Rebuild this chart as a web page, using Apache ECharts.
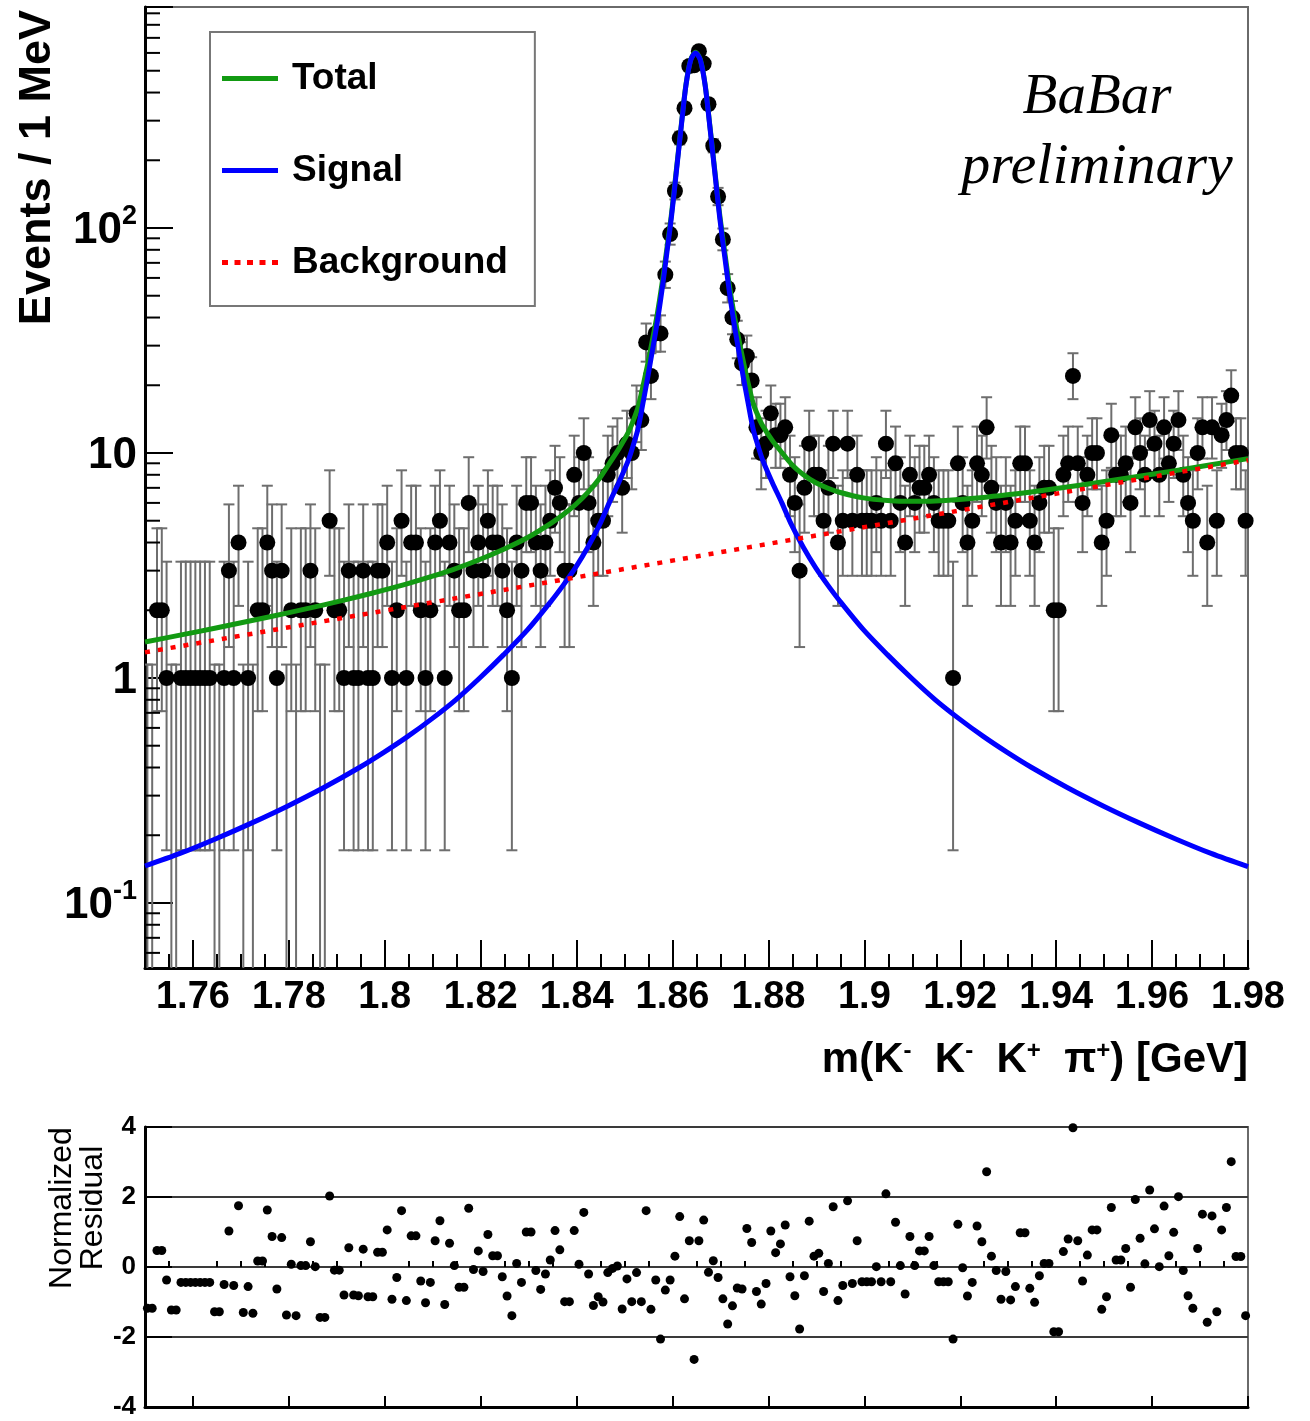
<!DOCTYPE html>
<html>
<head>
<meta charset="utf-8">
<title>BaBar preliminary - m(K- K- K+ pi+)</title>
<script src="https://cdn.jsdelivr.net/npm/echarts@6.0.0/dist/echarts.min.js"></script>
<style>
html,body{margin:0;padding:0;background:#ffffff;}
#chart{width:1310px;height:1421px;}
</style>
</head>
<body>
<div id="chart"></div>
<script>
// ---------------- data ----------------
const binLow = 1.75;      // GeV, lower edge of first bin
const binWidth = 0.001;   // 1 MeV bins

const counts = [
  0,0,2,2,1,0,0,1,1,1,
  1,1,1,1,0,0,1,3,1,4,
  0,1,0,2,2,4,3,1,3,0,
  2,0,2,2,3,2,0,0,5,2,
  2,1,3,1,1,3,1,1,3,3,
  4,1,2,5,1,4,4,2,1,2,
  4,5,1,4,3,2,2,6,3,4,
  3,5,4,4,3,2,1,4,3,6,
  6,4,3,4,5,7,6,3,3,8,
  6,10,6,4,5,5,8,9,10,7,
  11,10,15,14,31,22,34,34,62,94,
  146,251,341,525,529,611,538,355,232,138,
  89,54,40,32,25,27,21,13,10,11,
  15,12,12,13,8,6,3,7,11,8,
  8,5,7,11,4,5,11,5,8,5,
  5,5,6,5,11,5,9,6,4,8,
  6,7,7,8,6,5,5,5,1,9,
  6,4,5,9,8,13,7,6,4,6,
  4,5,9,9,5,4,6,7,7,2,
  2,8,9,22,9,6,8,10,10,4,
  5,12,8,8,9,6,13,10,8,14,
  11,8,13,9,11,14,8,6,5,10,
  13,4,13,5,12,14,18,10,10,5
];

const residuals = [
  -1.18,-1.18,0.47,0.47,-0.37,-1.23,-1.23,-0.44,-0.44,-0.44,
  -0.44,-0.44,-0.44,-0.44,-1.28,-1.28,-0.50,1.03,-0.53,1.75,
  -1.30,-0.56,-1.32,0.17,0.17,1.63,0.87,-0.63,0.84,-1.37,
  0.08,-1.39,0.04,0.04,0.72,0.01,-1.44,-1.44,2.03,-0.09,
  -0.09,-0.80,0.55,-0.80,-0.82,0.51,-0.85,-0.85,0.42,0.42,
  1.06,-0.92,-0.30,1.61,-0.96,0.89,0.89,-0.40,-1.02,-0.44,
  0.75,1.32,-1.07,0.68,0.04,-0.58,-0.58,1.68,-0.07,0.46,
  -0.13,0.93,0.32,0.32,-0.28,-0.83,-1.39,0.10,-0.44,1.00,
  1.00,-0.10,-0.64,-0.20,0.20,1.04,0.49,-0.99,-0.99,1.04,
  0.08,1.56,-0.20,-1.10,-0.85,-1.00,-0.16,-0.04,0.03,-1.20,
  -0.34,-0.99,-0.16,-0.99,1.61,-1.21,-0.37,-2.06,-0.66,-0.37,
  0.31,1.44,-0.91,0.75,-2.64,0.75,1.34,-0.15,0.18,-0.30,
  -0.91,-1.63,-1.11,-0.60,-0.63,1.10,0.70,-0.70,-1.06,-0.47,
  1.03,0.41,0.66,1.20,-0.28,-0.82,-1.77,-0.25,1.31,0.31,
  0.39,-0.70,0.10,1.72,-0.96,-0.53,1.89,-0.47,0.75,-0.42,
  -0.42,-0.42,0.01,-0.42,2.09,-0.42,1.28,0.04,-0.77,0.87,
  0.04,0.46,0.46,0.87,0.04,-0.42,-0.42,-0.42,-2.06,1.22,
  -0.02,-0.83,-0.44,1.17,0.72,2.72,0.31,-0.10,-0.92,-0.13,
  -0.94,-0.56,0.98,0.98,-0.61,-1.01,-0.25,0.10,0.10,-1.85,
  -1.85,0.44,0.80,3.98,0.75,-0.40,0.34,1.06,1.06,-1.21,
  -0.85,1.70,0.20,0.20,0.53,-0.58,1.93,0.82,0.09,2.20,
  1.09,0.01,1.74,0.32,0.99,2.01,-0.10,-0.82,-1.18,0.53,
  1.51,-1.58,1.46,-1.28,1.06,1.70,3.01,0.30,0.30,-1.39
];

// fit curves sampled along x (GeV)
const curveX = [
  1.75,1.7573,1.7648,1.7723,1.7798,1.7873,1.7948,1.7998,1.8048,1.8098,
  1.8148,1.8198,1.8248,1.8298,1.8348,1.8373,1.8398,1.8423,1.8448,1.8468,
  1.8488,1.8508,1.8518,1.8528,1.8538,1.8548,1.8558,1.8568,1.8578,1.8588,
  1.8598,1.8608,1.8618,1.8628,1.8638,1.8648,
  1.8658,1.8668,1.8678,1.8688,1.8698,1.8708,1.8718,1.8728,1.8738,1.8748,
  1.8758,1.8768,1.8778,1.8788,1.8808,1.8828,1.8848,1.8873,1.8898,1.8923,
  1.8948,1.8998,1.9048,1.9098,1.9148,1.9198,1.9248,1.9298,1.9348,1.9423,
  1.9498,1.9573,1.9648,1.9723,1.98
];
const signalY = [
  0.146,0.166,0.193,0.227,0.270,0.326,0.401,0.467,0.550,0.658,
  0.80,1.0,1.27,1.64,2.21,2.60,3.1,3.8,4.8,6.0,
  7.4,9.3,10.8,12.8,16.5,21.5,28.5,38,53,77,
  113,178,280,430,558,600,
  558,430,280,178,113,77,53,38,28.5,21.5,
  16.5,12.8,10.8,9.3,7.4,6.0,4.8,3.8,3.1,2.60,
  2.21,1.64,1.27,1.0,0.80,0.658,0.550,0.467,0.401,0.326,
  0.270,0.227,0.193,0.166,0.145
];
const totalY = [
  1.446,1.550,1.668,1.800,1.947,2.114,2.308,2.457,2.627,2.826,
  3.063,3.362,3.735,4.212,4.895,5.343,5.902,6.663,7.724,8.975,
  10.43,12.38,13.91,15.93,19.66,24.69,31.71,41.24,56.27,80.30,
  116.3,181.4,283.4,433.4,561.4,603.5,
  561.5,433.5,283.6,181.6,116.6,80.65,56.68,41.72,32.25,25.28,
  20.31,16.64,14.68,13.21,11.38,10.05,8.92,8.006,7.396,6.990,
  6.693,6.319,6.153,6.099,6.119,6.212,6.344,6.517,6.712,7.059,
  7.445,7.881,8.351,8.867,9.439
];
const backgroundX = [1.75, 1.865, 1.98];
const backgroundY = [1.30, 3.47, 9.29];

// axes / ticks / texts
const xTickValues = [1.76,1.78,1.80,1.82,1.84,1.86,1.88,1.90,1.92,1.94,1.96,1.98];
const yMinorTicks = [0.06,0.07,0.08,0.09,0.2,0.3,0.4,0.5,0.6,0.7,0.8,0.9,
  2,3,4,5,6,7,8,9,20,30,40,50,60,70,80,90,200,300,400,500,600,700,800,900];
const legendNames = ['Total','Signal','Background'];
const xTitle = 'm(K{sup|-}  K{sup|-}  K{sup|+}  {pi|π}{sup|+}) [GeV]';
const yTitle = 'Events / 1 MeV';
const residTitle = 'Normalized\nResidual';
const tagLines = ['BaBar', 'preliminary'];

// ---------------- helpers ----------------
const FONT = '"Liberation Sans", Arial, Helvetica, sans-serif';
const SERIF = '"Liberation Serif", "Times New Roman", serif';
const yMin = 0.0514, yMax = 960;
const xMin = 1.75, xMax = 1.98;

const xMinorTicks = [];
for (let k = 351; k <= 395; k++) {
  const v = +(k * 0.005).toFixed(3);
  if (xTickValues.indexOf(v) < 0) xMinorTicks.push(v);
}

function poissonInterval(n) {           // 68% central Poisson interval
  if (n === 0) return [0, 1.147];
  const lo = n * Math.pow(1 - 1 / (9 * n) - 1 / (3 * Math.sqrt(n)), 3);
  const m = n + 1;
  const hi = m * Math.pow(1 - 1 / (9 * m) + 1 / (3 * Math.sqrt(m)), 3);
  return [lo, hi];
}

const centers = counts.map((_, i) => +(binLow + binWidth * (i + 0.5)).toFixed(4));
const errData = counts.map((n, i) => {
  const iv = poissonInterval(n);
  return [centers[i], Math.max(iv[0], yMin), iv[1], n === 0 ? 0 : 1];
});
const pointData = [];
counts.forEach((n, i) => { if (n > 0) pointData.push([centers[i], n]); });
const residData = residuals.map((r, i) => [centers[i], r]);
const zip = (xs, ys) => xs.map((x, i) => [x, ys[i]]);

function logLabel(v) {
  const l = Math.log10(v);
  const e = Math.round(l);
  if (Math.abs(l - e) > 1e-6) return '';
  if (e < -1 || e > 2) return '';
  if (e === 0) return '{b|1}';
  if (e === 1) return '{b|10}';
  return '{b|10}{s|' + e + '}';
}

const tickLine = {color: '#000', width: 2};

const chart = echarts.init(document.getElementById('chart'), null, {renderer: 'canvas', width: 1310, height: 1421});

const option = {
  animation: false,
  backgroundColor: '#ffffff',
  grid: [
    {left: 145, top: 7, width: 1103, height: 961, show: true, borderColor: '#6a6a6a', borderWidth: 2, backgroundColor: 'rgba(0,0,0,0)'},
    {left: 145, top: 1127, width: 1103, height: 280, show: true, borderColor: '#6a6a6a', borderWidth: 2, backgroundColor: 'rgba(0,0,0,0)'}
  ],
  xAxis: [
    {gridIndex: 0, type: 'value', min: xMin, max: xMax, position: 'bottom',
      axisLine: {show: true, onZero: false, lineStyle: {color: '#000', width: 3}},
      axisTick: {show: true, inside: true, length: 28, lineStyle: tickLine, customValues: xTickValues},
      axisLabel: {show: true, customValues: xTickValues, margin: 11, fontFamily: FONT, fontSize: 38, fontWeight: 'bold', color: '#000',
        formatter: v => String(+(+v).toFixed(2))},
      splitLine: {show: false}},
    {gridIndex: 0, type: 'value', min: xMin, max: xMax, position: 'bottom',
      axisLine: {show: false}, axisLabel: {show: false}, splitLine: {show: false},
      axisTick: {show: true, inside: true, length: 14, lineStyle: tickLine, customValues: xMinorTicks}},
    {gridIndex: 1, type: 'value', min: xMin, max: xMax, position: 'bottom',
      axisLine: {show: true, onZero: false, lineStyle: {color: '#000', width: 3}},
      axisTick: {show: true, inside: true, length: 11, lineStyle: tickLine, customValues: xTickValues},
      axisLabel: {show: false}, splitLine: {show: false}},
    {gridIndex: 1, type: 'value', min: xMin, max: xMax, position: 'bottom',
      axisLine: {show: false}, axisLabel: {show: false}, splitLine: {show: false},
      axisTick: {show: true, inside: true, length: 6, lineStyle: tickLine, customValues: xMinorTicks}}
  ],
  yAxis: [
    {gridIndex: 0, type: 'log', logBase: 10, min: yMin, max: yMax,
      axisLine: {show: true, onZero: false, lineStyle: {color: '#000', width: 3}},
      axisTick: {show: true, inside: true, length: 28, lineStyle: tickLine},
      minorTick: {show: false}, splitLine: {show: false},
      axisLabel: {show: true, margin: 8, formatter: logLabel, color: '#000',
        rich: {
          b: {fontFamily: FONT, fontSize: 44, fontWeight: 'bold', color: '#000', lineHeight: 50, verticalAlign: 'bottom'},
          s: {fontFamily: FONT, fontSize: 27, fontWeight: 'bold', color: '#000', lineHeight: 28, verticalAlign: 'top'}
        }}},
    {gridIndex: 1, type: 'value', min: -4, max: 4, interval: 2,
      axisLine: {show: true, onZero: false, lineStyle: {color: '#000', width: 3}},
      axisTick: {show: true, inside: true, length: 27, lineStyle: tickLine},
      axisLabel: {show: true, margin: 9, fontFamily: FONT, fontSize: 26, fontWeight: 'bold', color: '#000'},
      splitLine: {show: true, lineStyle: {color: '#3a3a3a', width: 2}}}
  ],
  legend: {
    orient: 'vertical', left: 210, top: 32,
    padding: [28, 27, 25, 12], itemGap: 55, itemWidth: 56, itemHeight: 5,
    borderColor: '#777', borderWidth: 2, backgroundColor: '#fff',
    selectedMode: false,
    textStyle: {fontFamily: FONT, fontSize: 37, fontWeight: 'bold', color: '#000', padding: [0, 0, 0, 9]},
    data: [
      {name: legendNames[0], icon: 'rect'},
      {name: legendNames[1], icon: 'rect'},
      {name: legendNames[2], icon: 'path://M0,0h6v5h-6z M12.5,0h6v5h-6z M25,0h6v5h-6z M37.5,0h6v5h-6z M50,0h6v5h-6z'}
    ]
  },
  graphic: [
    {type: 'text', x: 1097, y: 98, z: 10, style: {text: tagLines[0], fontFamily: SERIF, fontStyle: 'italic', fontSize: 57, fill: '#000', align: 'center', verticalAlign: 'middle'}},
    {type: 'text', x: 1097, y: 168, z: 10, style: {text: tagLines[1], fontFamily: SERIF, fontStyle: 'italic', fontSize: 58, fill: '#000', align: 'center', verticalAlign: 'middle'}},
    {type: 'text', x: 1248, y: 1060, z: 10, style: {text: xTitle, fontFamily: FONT, fontSize: 42, fontWeight: 'bold', fill: '#000', align: 'right', verticalAlign: 'middle',
      rich: {
        sup: {fontFamily: FONT, fontSize: 24, fontWeight: 'bold', fill: '#000', verticalAlign: 'top', lineHeight: 24},
        pi: {fontFamily: FONT, fontSize: 42, fontWeight: 'bold', fill: '#000'}
      }}},
    {type: 'text', x: 38, y: 10, rotation: Math.PI / 2, z: 10, style: {text: yTitle, fontFamily: FONT, fontSize: 45, fontWeight: 'bold', fill: '#000', align: 'right', verticalAlign: 'middle'}},
    {type: 'text', x: 78, y: 1208, rotation: Math.PI / 2, z: 10, style: {text: residTitle, fontFamily: FONT, fontSize: 32, fill: '#000', align: 'center', verticalAlign: 'middle', lineHeight: 31}}
  ],
  series: [
    {
      name: 'errors', type: 'custom', xAxisIndex: 0, yAxisIndex: 0, silent: true, clip: true, z: 2,
      data: errData,
      encode: {x: 0, y: [1, 2]},
      renderItem: function (params, api) {
        const x = api.value(0), lo = api.value(1), hi = api.value(2), hasLow = api.value(3);
        const top = api.coord([x, hi]);
        const bot = api.coord([x, lo]);
        const cw = 5.5;
        const st = {stroke: '#6e6e6e', lineWidth: 2};
        const children = [
          {type: 'line', shape: {x1: top[0], y1: top[1], x2: bot[0], y2: bot[1]}, style: st},
          {type: 'line', shape: {x1: top[0] - cw, y1: top[1], x2: top[0] + cw, y2: top[1]}, style: st}
        ];
        if (hasLow && lo > yMin) children.push({type: 'line', shape: {x1: bot[0] - cw, y1: bot[1], x2: bot[0] + cw, y2: bot[1]}, style: st});
        return {type: 'group', children: children};
      }
    },
    {
      name: 'Data', type: 'scatter', xAxisIndex: 0, yAxisIndex: 0, z: 3, silent: true,
      symbol: 'circle', symbolSize: 16, itemStyle: {color: '#000', opacity: 1},
      data: pointData
    },
    {
      name: legendNames[0], type: 'line', xAxisIndex: 0, yAxisIndex: 0, z: 4, silent: true,
      color: '#129a12', showSymbol: false, symbol: 'none', smooth: 0.3,
      lineStyle: {color: '#129a12', width: 5, join: 'round'},
      data: zip(curveX, totalY)
    },
    {
      name: legendNames[1], type: 'line', xAxisIndex: 0, yAxisIndex: 0, z: 5, silent: true,
      color: '#0000ff', showSymbol: false, symbol: 'none', smooth: 0.3,
      lineStyle: {color: '#0000ff', width: 5, join: 'round'},
      data: zip(curveX, signalY)
    },
    {
      name: legendNames[2], type: 'line', xAxisIndex: 0, yAxisIndex: 0, z: 6, silent: true,
      color: '#ff0000', showSymbol: false, symbol: 'none', smooth: false,
      lineStyle: {color: '#ff0000', width: 4.5, type: [5, 8]},
      data: zip(backgroundX, backgroundY)
    },
    {
      name: 'yMinorTicks', type: 'custom', xAxisIndex: 0, yAxisIndex: 0, silent: true, clip: false, z: 7,
      data: yMinorTicks.map(v => [xMin, v]),
      renderItem: function (params, api) {
        const p = api.coord([api.value(0), api.value(1)]);
        return {type: 'line', shape: {x1: p[0], y1: p[1], x2: p[0] + 15, y2: p[1]}, style: {stroke: '#000', lineWidth: 2}};
      }
    },
    {
      name: 'Residual', type: 'scatter', xAxisIndex: 2, yAxisIndex: 1, z: 3, silent: true,
      symbol: 'circle', symbolSize: 9, itemStyle: {color: '#000', opacity: 1},
      data: residData
    }
  ]
};
chart.setOption(option);
</script>
</body>
</html>
